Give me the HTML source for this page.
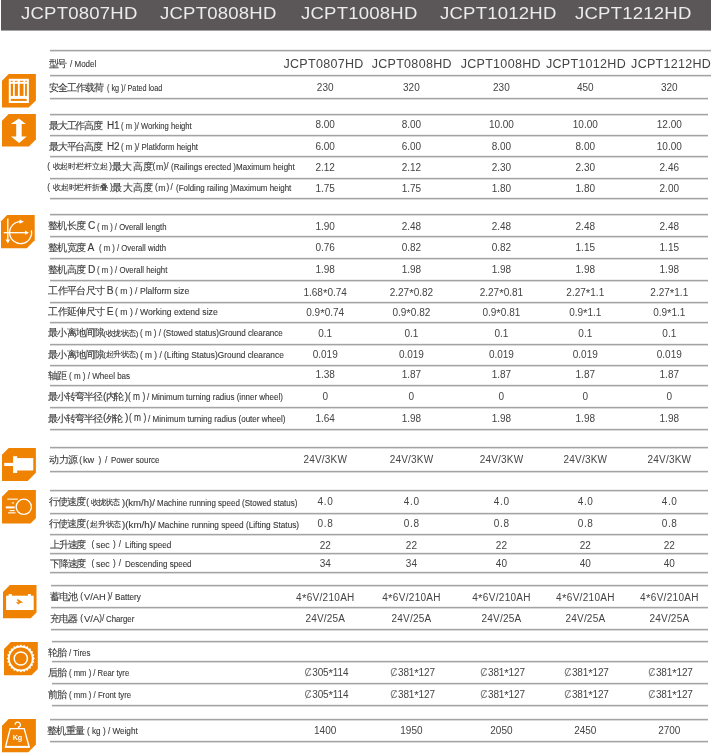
<!DOCTYPE html>
<html><head><meta charset="utf-8"><style>
html,body{margin:0;padding:0;background:#fff;width:711px;height:755px;overflow:hidden;position:relative}
body{font-family:"Liberation Sans",sans-serif;color:#383838}
.hdr{position:absolute;left:1px;top:0;width:710px;height:30px;background:#5b5657;box-shadow:0 1px 0 rgba(91,86,87,0.55)}
.ht{position:absolute;top:12.9px;line-height:0;font-size:17.5px;color:#ececec;letter-spacing:0.2px;white-space:nowrap;transform:scale(1.06,0.92);transform-origin:0 6px}
.ln{position:absolute;height:1px;background:#a3a3a3;box-shadow:0 1px 0 #dadada,0 -1px 0 #efefef}
.t{position:absolute;line-height:0;white-space:pre}
.c{font-size:9.5px;-webkit-text-stroke:0.25px #383838}
.s{font-size:8.0px;-webkit-text-stroke:0.2px #383838}
.n{font-size:10.2px}
.e{font-size:8.8px}
.e2{font-size:9.2px}
.p{font-size:8.2px}
.v{position:absolute;line-height:0;white-space:pre;text-align:center;width:120px;color:#444}
.ic{position:absolute;overflow:visible}
#wrap{position:absolute;left:0;top:0;width:711px;height:755px;will-change:transform}
.t{-webkit-text-stroke:0.12px #3a3a3a}
.t.c{-webkit-text-stroke:0.1px #383838}
.t.s{-webkit-text-stroke:0.1px #383838}
.v{-webkit-text-stroke:0}
.ast{font-size:11.5px;position:relative;top:1.2px}
.cs{color:#777;font-size:10px;margin-right:0.6px}
</style></head><body>
<div id="wrap">
<div class="hdr"></div>

<div class="ht" style="left:20.9px">JCPT0807HD</div>
<div class="ht" style="left:160.4px">JCPT0808HD</div>
<div class="ht" style="left:301.0px">JCPT1008HD</div>
<div class="ht" style="left:440.4px">JCPT1012HD</div>
<div class="ht" style="left:574.9px">JCPT1212HD</div>
<div class="ln" style="left:50px;top:50px;width:661px"></div>
<div class="ln" style="left:50px;top:75px;width:661px"></div>
<div class="ln" style="left:50px;top:98px;width:658px"></div>
<div class="ln" style="left:50px;top:114px;width:658px"></div>
<div class="ln" style="left:50px;top:135px;width:658px"></div>
<div class="ln" style="left:50px;top:156px;width:658px"></div>
<div class="ln" style="left:50px;top:178px;width:658px"></div>
<div class="ln" style="left:50px;top:198px;width:658px"></div>
<div class="ln" style="left:50px;top:214px;width:658px"></div>
<div class="ln" style="left:50px;top:236px;width:658px"></div>
<div class="ln" style="left:50px;top:258px;width:658px"></div>
<div class="ln" style="left:50px;top:280px;width:658px"></div>
<div class="ln" style="left:50px;top:302px;width:658px"></div>
<div class="ln" style="left:50px;top:322px;width:658px"></div>
<div class="ln" style="left:50px;top:344px;width:658px"></div>
<div class="ln" style="left:50px;top:365px;width:658px"></div>
<div class="ln" style="left:50px;top:385px;width:658px"></div>
<div class="ln" style="left:50px;top:407px;width:658px"></div>
<div class="ln" style="left:50px;top:429px;width:658px"></div>
<div class="ln" style="left:50px;top:447px;width:658px"></div>
<div class="ln" style="left:50px;top:471px;width:658px"></div>
<div class="ln" style="left:50px;top:490px;width:658px"></div>
<div class="ln" style="left:50px;top:513px;width:658px"></div>
<div class="ln" style="left:50px;top:534px;width:658px"></div>
<div class="ln" style="left:50px;top:553px;width:658px"></div>
<div class="ln" style="left:50px;top:572px;width:658px"></div>
<div class="ln" style="left:51px;top:585px;width:657px"></div>
<div class="ln" style="left:51px;top:607px;width:657px"></div>
<div class="ln" style="left:51px;top:629px;width:657px"></div>
<div class="ln" style="left:52px;top:641px;width:656px"></div>
<div class="ln" style="left:52px;top:661px;width:656px"></div>
<div class="ln" style="left:52px;top:683px;width:656px"></div>
<div class="ln" style="left:52px;top:705px;width:656px"></div>
<div class="ln" style="left:49.5px;top:719px;width:658.5px"></div>
<div class="ln" style="left:49.5px;top:741px;width:658.5px"></div>
<div class="t c" id="s0_0" style="left:48.60px;top:63.76px;letter-spacing:-1.306px">型号</div>
<div class="t e" id="s0_1" style="left:69.60px;top:64.00px;transform:scaleX(0.9113);transform-origin:0 0">/ Model</div>
<div class="t c" id="s1_0" style="left:48.60px;top:87.61px;letter-spacing:-0.823px">安全工作载荷</div>
<div class="t e" id="s1_1" style="left:107.00px;top:87.85px;transform:scaleX(0.8239);transform-origin:0 0">( kg )/ Pated load</div>
<div class="t c" id="s3_0" style="left:48.60px;top:125.86px;letter-spacing:-1.041px">最大工作高度</div>
<div class="t n" id="s3_1" style="left:106.90px;top:125.69px;font-size:10.0px">H1</div>
<div class="t e" id="s3_2" style="left:121.00px;top:126.10px;transform:scaleX(0.8676);transform-origin:0 0">( m )/ Working height</div>
<div class="t c" id="s4_0" style="left:48.60px;top:146.71px;letter-spacing:-1.041px">最大平台高度</div>
<div class="t n" id="s4_1" style="left:106.90px;top:146.53px;font-size:10.0px">H2</div>
<div class="t e" id="s4_2" style="left:121.00px;top:146.95px;transform:scaleX(0.8898);transform-origin:0 0">( m )/ Platkform height</div>
<div class="t p" id="s5_0" style="left:47.30px;top:167.31px">(</div>
<div class="t s" id="s5_1" style="left:52.60px;top:167.38px;letter-spacing:-0.169px">收起时栏杆立起</div>
<div class="t p" id="s5_2" style="left:109.20px;top:167.31px">)</div>
<div class="t c" id="s5_3" style="left:111.60px;top:166.69px;letter-spacing:0.562px;font-size:10.0px">最大高度</div>
<div class="t p" id="s5_4" style="left:152.60px;top:167.31px">(</div>
<div class="t e" id="s5_5" style="left:155.90px;top:167.10px">m</div>
<div class="t p" id="s5_6" style="left:163.60px;top:167.31px">)/</div>
<div class="t e" id="s5_7" style="left:170.70px;top:167.10px;transform:scaleX(0.9108);transform-origin:0 0">(Railings erected )Maximum height</div>
<div class="t p" id="s6_0" style="left:47.30px;top:188.31px">(</div>
<div class="t s" id="s6_1" style="left:52.60px;top:188.38px;letter-spacing:-0.035px">收起时栏杆折叠</div>
<div class="t p" id="s6_2" style="left:110.00px;top:188.31px">)</div>
<div class="t c" id="s6_3" style="left:112.20px;top:187.69px;letter-spacing:0.366px;font-size:10.0px">最大高度</div>
<div class="t p" id="s6_4" style="left:155.10px;top:188.31px">(</div>
<div class="t e" id="s6_5" style="left:158.20px;top:188.10px">m</div>
<div class="t p" id="s6_6" style="left:166.60px;top:188.31px">)</div>
<div class="t p" id="s6_7" style="left:170.60px;top:188.31px">/</div>
<div class="t e" id="s6_8" style="left:176.00px;top:188.10px;transform:scaleX(0.9036);transform-origin:0 0">(Folding railing )Maximum height</div>
<div class="t c" id="s8_0" style="left:48.40px;top:226.36px;letter-spacing:-0.938px">整机长度</div>
<div class="t n" id="s8_1" style="left:88.10px;top:226.12px">C</div>
<div class="t e" id="s8_2" style="left:96.70px;top:226.60px;transform:scaleX(0.8709);transform-origin:0 0">( m ) / Overall length</div>
<div class="t c" id="s9_0" style="left:48.40px;top:248.21px;letter-spacing:-0.938px">整机宽度</div>
<div class="t n" id="s9_1" style="left:87.60px;top:247.97px">A</div>
<div class="t e" id="s9_2" style="left:99.40px;top:248.45px;transform:scaleX(0.8785);transform-origin:0 0">( m ) / Overall width</div>
<div class="t c" id="s10_0" style="left:48.40px;top:270.16px;letter-spacing:-0.938px">整机高度</div>
<div class="t n" id="s10_1" style="left:88.10px;top:269.92px">D</div>
<div class="t e" id="s10_2" style="left:96.70px;top:270.40px;transform:scaleX(0.8822);transform-origin:0 0">( m ) / Overall height</div>
<div class="t c" id="s11_0" style="left:48.40px;top:291.31px;letter-spacing:-0.721px">工作平台尺寸</div>
<div class="t n" id="s11_1" style="left:106.80px;top:291.07px">B</div>
<div class="t e2" id="s11_2" style="left:115.00px;top:291.41px;transform:scaleX(0.9377);transform-origin:0 0">( m ) / Plalform size</div>
<div class="t c" id="s12_0" style="left:48.40px;top:312.26px;letter-spacing:-0.721px">工作延伸尺寸</div>
<div class="t n" id="s12_1" style="left:106.80px;top:312.02px">E</div>
<div class="t e2" id="s12_2" style="left:115.00px;top:312.36px;transform:scaleX(0.9414);transform-origin:0 0">( m ) / Working extend size</div>
<div class="t c" id="s13_0" style="left:48.40px;top:333.06px;letter-spacing:-0.902px">最小离地间隙</div>
<div class="t s" id="s13_1" style="left:103.30px;top:333.58px;letter-spacing:-0.446px">(收拢状态)</div>
<div class="t e" id="s13_2" style="left:140.10px;top:333.30px;transform:scaleX(0.9128);transform-origin:0 0">( m ) / (Stowed status)Ground clearance</div>
<div class="t c" id="s14_0" style="left:48.40px;top:354.61px;letter-spacing:-0.902px">最小离地间隙</div>
<div class="t s" id="s14_1" style="left:103.30px;top:355.13px;letter-spacing:-0.446px">(起升状态)</div>
<div class="t e" id="s14_2" style="left:140.10px;top:354.85px;transform:scaleX(0.9456);transform-origin:0 0">( m ) / (Lifting Status)Ground clearance</div>
<div class="t c" id="s15_0" style="left:48.40px;top:376.06px;letter-spacing:-1.000px">轴距</div>
<div class="t e2" id="s15_1" style="left:69.30px;top:376.16px;transform:scaleX(0.8735);transform-origin:0 0">( m ) / Wheel bas</div>
<div class="t c" id="s16_0" style="left:48.40px;top:396.81px;letter-spacing:-0.981px">最小转弯半径</div>
<div class="t n" id="s16_1" style="left:102.90px;top:396.57px">(</div>
<div class="t c" id="s16_2" style="left:105.60px;top:396.81px;letter-spacing:-1.613px">内轮</div>
<div class="t n" id="s16_3" style="left:124.80px;top:396.57px">)</div>
<div class="t n" id="s16_4" style="left:127.80px;top:396.57px;transform:scaleX(0.8215);transform-origin:0 0">( m )</div>
<div class="t e" id="s16_5" style="left:147.00px;top:397.05px;transform:scaleX(0.9083);transform-origin:0 0">/ Minimum turning radius (inner wheel)</div>
<div class="t c" id="s17_0" style="left:48.40px;top:418.66px;letter-spacing:-0.981px">最小转弯半径</div>
<div class="t n" id="s17_1" style="left:102.90px;top:418.42px">(</div>
<div class="t c" id="s17_2" style="left:105.60px;top:418.66px;letter-spacing:-2.500px">外轮</div>
<div class="t n" id="s17_3" style="left:125.00px;top:418.42px">)</div>
<div class="t n" id="s17_4" style="left:128.70px;top:418.42px;transform:scaleX(0.8215);transform-origin:0 0">( m )</div>
<div class="t e" id="s17_5" style="left:147.90px;top:418.90px;transform:scaleX(0.9161);transform-origin:0 0">/ Minimum turning radius (outer wheel)</div>
<div class="t c" id="s19_0" style="left:49.00px;top:460.06px;letter-spacing:-0.352px">动力源</div>
<div class="t p" id="s19_1" style="left:79.30px;top:460.51px">(</div>
<div class="t e" id="s19_2" style="left:83.00px;top:460.16px;font-size:9.2px">kw</div>
<div class="t p" id="s19_3" style="left:98.40px;top:460.51px">)</div>
<div class="t p" id="s19_4" style="left:104.90px;top:460.51px">/</div>
<div class="t e" id="s19_5" style="left:111.30px;top:460.30px;transform:scaleX(0.8997);transform-origin:0 0">Power source</div>
<div class="t c" id="s21_0" style="left:49.00px;top:502.36px;letter-spacing:-1.000px">行使速度</div>
<div class="t p" id="s21_1" style="left:86.30px;top:502.81px">(</div>
<div class="t s" id="s21_2" style="left:91.00px;top:502.88px;letter-spacing:-0.872px">收拢状态</div>
<div class="t e" id="s21_3" style="left:122.30px;top:502.60px;transform:scaleX(1.0826);transform-origin:0 0">)(km/h)/</div>
<div class="t e" id="s21_4" style="left:157.00px;top:502.60px;transform:scaleX(0.9057);transform-origin:0 0">Machine running speed (Stowed status)</div>
<div class="t c" id="s22_0" style="left:49.00px;top:524.36px;letter-spacing:-1.000px">行使速度</div>
<div class="t p" id="s22_1" style="left:86.30px;top:524.81px">(</div>
<div class="t s" id="s22_2" style="left:90.10px;top:524.88px;letter-spacing:-0.268px">起升状态</div>
<div class="t e" id="s22_3" style="left:122.30px;top:524.60px;transform:scaleX(1.1124);transform-origin:0 0">)(km/h)/</div>
<div class="t e" id="s22_4" style="left:158.00px;top:524.60px;transform:scaleX(0.9367);transform-origin:0 0">Machine running speed (Lifting Status)</div>
<div class="t c" id="s23_0" style="left:49.90px;top:544.51px;letter-spacing:-1.134px">上升速度</div>
<div class="t p" id="s23_1" style="left:91.60px;top:544.96px">(</div>
<div class="t e" id="s23_2" style="left:96.00px;top:544.75px">sec</div>
<div class="t p" id="s23_3" style="left:112.90px;top:544.96px">)</div>
<div class="t p" id="s23_4" style="left:118.80px;top:544.96px">/</div>
<div class="t e2" id="s23_5" style="left:125.10px;top:544.61px;transform:scaleX(0.8885);transform-origin:0 0">Lifting speed</div>
<div class="t c" id="s24_0" style="left:49.90px;top:563.71px;letter-spacing:-1.134px">下降速度</div>
<div class="t p" id="s24_1" style="left:91.60px;top:564.16px">(</div>
<div class="t e" id="s24_2" style="left:96.00px;top:563.95px">sec</div>
<div class="t p" id="s24_3" style="left:112.90px;top:564.16px">)</div>
<div class="t p" id="s24_4" style="left:118.80px;top:564.16px">/</div>
<div class="t e2" id="s24_5" style="left:125.10px;top:563.81px;transform:scaleX(0.8750);transform-origin:0 0">Descending speed</div>
<div class="t c" id="s26_0" style="left:49.50px;top:596.96px;letter-spacing:-0.602px">蓄电池</div>
<div class="t p" id="s26_1" style="left:80.20px;top:597.41px">(</div>
<div class="t n" id="s26_2" style="left:83.90px;top:596.92px;transform:scaleX(0.9730);transform-origin:0 0;font-size:9.6px">V/AH</div>
<div class="t p" id="s26_3" style="left:107.40px;top:597.41px">)/</div>
<div class="t e" id="s26_4" style="left:115.00px;top:597.20px;transform:scaleX(0.9255);transform-origin:0 0">Battery</div>
<div class="t c" id="s27_0" style="left:49.50px;top:619.01px;letter-spacing:-0.602px">充电器</div>
<div class="t p" id="s27_1" style="left:80.20px;top:619.46px">(</div>
<div class="t n" id="s27_2" style="left:83.90px;top:618.97px;font-size:9.6px">V/A</div>
<div class="t p" id="s27_3" style="left:99.20px;top:619.46px">)/</div>
<div class="t e" id="s27_4" style="left:105.80px;top:619.25px;transform:scaleX(0.8900);transform-origin:0 0">Charger</div>
<div class="t c" id="s29_0" style="left:48.40px;top:653.11px;letter-spacing:-1.000px">轮胎</div>
<div class="t e" id="s29_1" style="left:69.30px;top:653.35px;transform:scaleX(0.8934);transform-origin:0 0">/ Tires</div>
<div class="t c" id="s30_0" style="left:48.40px;top:672.86px;letter-spacing:-1.000px">后胎</div>
<div class="t e" id="s30_1" style="left:69.30px;top:673.10px;transform:scaleX(0.8734);transform-origin:0 0">( mm ) / Rear tyre</div>
<div class="t c" id="s31_0" style="left:48.40px;top:694.76px;letter-spacing:-1.000px">前胎</div>
<div class="t e" id="s31_1" style="left:69.30px;top:695.00px;transform:scaleX(0.8822);transform-origin:0 0">( mm ) / Front tyre</div>
<div class="t c" id="s33_0" style="left:47.10px;top:731.06px;letter-spacing:-0.603px">整机重量</div>
<div class="t e" id="s33_1" style="left:87.00px;top:731.30px;transform:scaleX(0.9287);transform-origin:0 0">( kg ) / Weight</div>
<div class="v" style="left:263.4px;top:63.62px;font-size:12.5px;letter-spacing:0.3px;text-indent:0.3px">JCPT0807HD</div>
<div class="v" style="left:351.6px;top:63.62px;font-size:12.5px;letter-spacing:0.3px;text-indent:0.3px">JCPT0808HD</div>
<div class="v" style="left:440.6px;top:63.62px;font-size:12.5px;letter-spacing:0.3px;text-indent:0.3px">JCPT1008HD</div>
<div class="v" style="left:525.8px;top:63.62px;font-size:12.5px;letter-spacing:0.3px;text-indent:0.3px">JCPT1012HD</div>
<div class="v" style="left:611.0px;top:63.62px;font-size:12.5px;letter-spacing:0.3px;text-indent:0.3px">JCPT1212HD</div>
<div class="v" style="left:265.2px;top:87.53px;font-size:10.0px;letter-spacing:0.0px;text-indent:0.0px">230</div>
<div class="v" style="left:351.4px;top:87.53px;font-size:10.0px;letter-spacing:0.0px;text-indent:0.0px">320</div>
<div class="v" style="left:441.4px;top:87.53px;font-size:10.0px;letter-spacing:0.0px;text-indent:0.0px">230</div>
<div class="v" style="left:525.3px;top:87.53px;font-size:10.0px;letter-spacing:0.0px;text-indent:0.0px">450</div>
<div class="v" style="left:609.3px;top:87.53px;font-size:10.0px;letter-spacing:0.0px;text-indent:0.0px">320</div>
<div class="v" style="left:265.2px;top:125.28px;font-size:10.0px;letter-spacing:0.0px;text-indent:0.0px">8.00</div>
<div class="v" style="left:351.4px;top:125.28px;font-size:10.0px;letter-spacing:0.0px;text-indent:0.0px">8.00</div>
<div class="v" style="left:441.4px;top:125.28px;font-size:10.0px;letter-spacing:0.0px;text-indent:0.0px">10.00</div>
<div class="v" style="left:525.3px;top:125.28px;font-size:10.0px;letter-spacing:0.0px;text-indent:0.0px">10.00</div>
<div class="v" style="left:609.3px;top:125.28px;font-size:10.0px;letter-spacing:0.0px;text-indent:0.0px">12.00</div>
<div class="v" style="left:265.2px;top:146.63px;font-size:10.0px;letter-spacing:0.0px;text-indent:0.0px">6.00</div>
<div class="v" style="left:351.4px;top:146.63px;font-size:10.0px;letter-spacing:0.0px;text-indent:0.0px">6.00</div>
<div class="v" style="left:441.4px;top:146.63px;font-size:10.0px;letter-spacing:0.0px;text-indent:0.0px">8.00</div>
<div class="v" style="left:525.3px;top:146.63px;font-size:10.0px;letter-spacing:0.0px;text-indent:0.0px">8.00</div>
<div class="v" style="left:609.3px;top:146.63px;font-size:10.0px;letter-spacing:0.0px;text-indent:0.0px">10.00</div>
<div class="v" style="left:265.2px;top:168.09px;font-size:10.0px;letter-spacing:0.0px;text-indent:0.0px">2.12</div>
<div class="v" style="left:351.4px;top:168.09px;font-size:10.0px;letter-spacing:0.0px;text-indent:0.0px">2.12</div>
<div class="v" style="left:441.4px;top:168.09px;font-size:10.0px;letter-spacing:0.0px;text-indent:0.0px">2.30</div>
<div class="v" style="left:525.3px;top:168.09px;font-size:10.0px;letter-spacing:0.0px;text-indent:0.0px">2.30</div>
<div class="v" style="left:609.3px;top:168.09px;font-size:10.0px;letter-spacing:0.0px;text-indent:0.0px">2.46</div>
<div class="v" style="left:265.2px;top:189.09px;font-size:10.0px;letter-spacing:0.0px;text-indent:0.0px">1.75</div>
<div class="v" style="left:351.4px;top:189.09px;font-size:10.0px;letter-spacing:0.0px;text-indent:0.0px">1.75</div>
<div class="v" style="left:441.4px;top:189.09px;font-size:10.0px;letter-spacing:0.0px;text-indent:0.0px">1.80</div>
<div class="v" style="left:525.3px;top:189.09px;font-size:10.0px;letter-spacing:0.0px;text-indent:0.0px">1.80</div>
<div class="v" style="left:609.3px;top:189.09px;font-size:10.0px;letter-spacing:0.0px;text-indent:0.0px">2.00</div>
<div class="v" style="left:265.2px;top:227.28px;font-size:10.0px;letter-spacing:0.0px;text-indent:0.0px">1.90</div>
<div class="v" style="left:351.4px;top:227.28px;font-size:10.0px;letter-spacing:0.0px;text-indent:0.0px">2.48</div>
<div class="v" style="left:441.4px;top:227.28px;font-size:10.0px;letter-spacing:0.0px;text-indent:0.0px">2.48</div>
<div class="v" style="left:525.3px;top:227.28px;font-size:10.0px;letter-spacing:0.0px;text-indent:0.0px">2.48</div>
<div class="v" style="left:609.3px;top:227.28px;font-size:10.0px;letter-spacing:0.0px;text-indent:0.0px">2.48</div>
<div class="v" style="left:265.2px;top:248.14px;font-size:10.0px;letter-spacing:0.0px;text-indent:0.0px">0.76</div>
<div class="v" style="left:351.4px;top:248.14px;font-size:10.0px;letter-spacing:0.0px;text-indent:0.0px">0.82</div>
<div class="v" style="left:441.4px;top:248.14px;font-size:10.0px;letter-spacing:0.0px;text-indent:0.0px">0.82</div>
<div class="v" style="left:525.3px;top:248.14px;font-size:10.0px;letter-spacing:0.0px;text-indent:0.0px">1.15</div>
<div class="v" style="left:609.3px;top:248.14px;font-size:10.0px;letter-spacing:0.0px;text-indent:0.0px">1.15</div>
<div class="v" style="left:265.2px;top:270.09px;font-size:10.0px;letter-spacing:0.0px;text-indent:0.0px">1.98</div>
<div class="v" style="left:351.4px;top:270.09px;font-size:10.0px;letter-spacing:0.0px;text-indent:0.0px">1.98</div>
<div class="v" style="left:441.4px;top:270.09px;font-size:10.0px;letter-spacing:0.0px;text-indent:0.0px">1.98</div>
<div class="v" style="left:525.3px;top:270.09px;font-size:10.0px;letter-spacing:0.0px;text-indent:0.0px">1.98</div>
<div class="v" style="left:609.3px;top:270.09px;font-size:10.0px;letter-spacing:0.0px;text-indent:0.0px">1.98</div>
<div class="v" style="left:265.2px;top:292.04px;font-size:10.0px;letter-spacing:0.0px;text-indent:0.0px">1.68<span class="ast">*</span>0.74</div>
<div class="v" style="left:351.4px;top:292.04px;font-size:10.0px;letter-spacing:0.0px;text-indent:0.0px">2.27<span class="ast">*</span>0.82</div>
<div class="v" style="left:441.4px;top:292.04px;font-size:10.0px;letter-spacing:0.0px;text-indent:0.0px">2.27<span class="ast">*</span>0.81</div>
<div class="v" style="left:525.3px;top:292.04px;font-size:10.0px;letter-spacing:0.0px;text-indent:0.0px">2.27<span class="ast">*</span>1.1</div>
<div class="v" style="left:609.3px;top:292.04px;font-size:10.0px;letter-spacing:0.0px;text-indent:0.0px">2.27<span class="ast">*</span>1.1</div>
<div class="v" style="left:265.2px;top:312.19px;font-size:10.0px;letter-spacing:0.0px;text-indent:0.0px">0.9<span class="ast">*</span>0.74</div>
<div class="v" style="left:351.4px;top:312.19px;font-size:10.0px;letter-spacing:0.0px;text-indent:0.0px">0.9<span class="ast">*</span>0.82</div>
<div class="v" style="left:441.4px;top:312.19px;font-size:10.0px;letter-spacing:0.0px;text-indent:0.0px">0.9<span class="ast">*</span>0.81</div>
<div class="v" style="left:525.3px;top:312.19px;font-size:10.0px;letter-spacing:0.0px;text-indent:0.0px">0.9<span class="ast">*</span>1.1</div>
<div class="v" style="left:609.3px;top:312.19px;font-size:10.0px;letter-spacing:0.0px;text-indent:0.0px">0.9<span class="ast">*</span>1.1</div>
<div class="v" style="left:265.2px;top:333.79px;font-size:10.0px;letter-spacing:0.0px;text-indent:0.0px">0.1</div>
<div class="v" style="left:351.4px;top:333.79px;font-size:10.0px;letter-spacing:0.0px;text-indent:0.0px">0.1</div>
<div class="v" style="left:441.4px;top:333.79px;font-size:10.0px;letter-spacing:0.0px;text-indent:0.0px">0.1</div>
<div class="v" style="left:525.3px;top:333.79px;font-size:10.0px;letter-spacing:0.0px;text-indent:0.0px">0.1</div>
<div class="v" style="left:609.3px;top:333.79px;font-size:10.0px;letter-spacing:0.0px;text-indent:0.0px">0.1</div>
<div class="v" style="left:265.2px;top:354.54px;font-size:10.0px;letter-spacing:0.0px;text-indent:0.0px">0.019</div>
<div class="v" style="left:351.4px;top:354.54px;font-size:10.0px;letter-spacing:0.0px;text-indent:0.0px">0.019</div>
<div class="v" style="left:441.4px;top:354.54px;font-size:10.0px;letter-spacing:0.0px;text-indent:0.0px">0.019</div>
<div class="v" style="left:525.3px;top:354.54px;font-size:10.0px;letter-spacing:0.0px;text-indent:0.0px">0.019</div>
<div class="v" style="left:609.3px;top:354.54px;font-size:10.0px;letter-spacing:0.0px;text-indent:0.0px">0.019</div>
<div class="v" style="left:265.2px;top:375.19px;font-size:10.0px;letter-spacing:0.0px;text-indent:0.0px">1.38</div>
<div class="v" style="left:351.4px;top:375.19px;font-size:10.0px;letter-spacing:0.0px;text-indent:0.0px">1.87</div>
<div class="v" style="left:441.4px;top:375.19px;font-size:10.0px;letter-spacing:0.0px;text-indent:0.0px">1.87</div>
<div class="v" style="left:525.3px;top:375.19px;font-size:10.0px;letter-spacing:0.0px;text-indent:0.0px">1.87</div>
<div class="v" style="left:609.3px;top:375.19px;font-size:10.0px;letter-spacing:0.0px;text-indent:0.0px">1.87</div>
<div class="v" style="left:265.2px;top:396.74px;font-size:10.0px;letter-spacing:0.0px;text-indent:0.0px">0</div>
<div class="v" style="left:351.4px;top:396.74px;font-size:10.0px;letter-spacing:0.0px;text-indent:0.0px">0</div>
<div class="v" style="left:441.4px;top:396.74px;font-size:10.0px;letter-spacing:0.0px;text-indent:0.0px">0</div>
<div class="v" style="left:525.3px;top:396.74px;font-size:10.0px;letter-spacing:0.0px;text-indent:0.0px">0</div>
<div class="v" style="left:609.3px;top:396.74px;font-size:10.0px;letter-spacing:0.0px;text-indent:0.0px">0</div>
<div class="v" style="left:265.2px;top:418.59px;font-size:10.0px;letter-spacing:0.0px;text-indent:0.0px">1.64</div>
<div class="v" style="left:351.4px;top:418.59px;font-size:10.0px;letter-spacing:0.0px;text-indent:0.0px">1.98</div>
<div class="v" style="left:441.4px;top:418.59px;font-size:10.0px;letter-spacing:0.0px;text-indent:0.0px">1.98</div>
<div class="v" style="left:525.3px;top:418.59px;font-size:10.0px;letter-spacing:0.0px;text-indent:0.0px">1.98</div>
<div class="v" style="left:609.3px;top:418.59px;font-size:10.0px;letter-spacing:0.0px;text-indent:0.0px">1.98</div>
<div class="v" style="left:265.2px;top:459.99px;font-size:10.0px;letter-spacing:0.2px;text-indent:0.2px">24V/3KW</div>
<div class="v" style="left:351.4px;top:459.99px;font-size:10.0px;letter-spacing:0.2px;text-indent:0.2px">24V/3KW</div>
<div class="v" style="left:441.4px;top:459.99px;font-size:10.0px;letter-spacing:0.2px;text-indent:0.2px">24V/3KW</div>
<div class="v" style="left:525.3px;top:459.99px;font-size:10.0px;letter-spacing:0.2px;text-indent:0.2px">24V/3KW</div>
<div class="v" style="left:609.3px;top:459.99px;font-size:10.0px;letter-spacing:0.2px;text-indent:0.2px">24V/3KW</div>
<div class="v" style="left:265.2px;top:502.29px;font-size:10.0px;letter-spacing:0.7px;text-indent:0.7px">4.0</div>
<div class="v" style="left:351.4px;top:502.29px;font-size:10.0px;letter-spacing:0.7px;text-indent:0.7px">4.0</div>
<div class="v" style="left:441.4px;top:502.29px;font-size:10.0px;letter-spacing:0.7px;text-indent:0.7px">4.0</div>
<div class="v" style="left:525.3px;top:502.29px;font-size:10.0px;letter-spacing:0.7px;text-indent:0.7px">4.0</div>
<div class="v" style="left:609.3px;top:502.29px;font-size:10.0px;letter-spacing:0.7px;text-indent:0.7px">4.0</div>
<div class="v" style="left:265.2px;top:524.28px;font-size:10.0px;letter-spacing:0.7px;text-indent:0.7px">0.8</div>
<div class="v" style="left:351.4px;top:524.28px;font-size:10.0px;letter-spacing:0.7px;text-indent:0.7px">0.8</div>
<div class="v" style="left:441.4px;top:524.28px;font-size:10.0px;letter-spacing:0.7px;text-indent:0.7px">0.8</div>
<div class="v" style="left:525.3px;top:524.28px;font-size:10.0px;letter-spacing:0.7px;text-indent:0.7px">0.8</div>
<div class="v" style="left:609.3px;top:524.28px;font-size:10.0px;letter-spacing:0.7px;text-indent:0.7px">0.8</div>
<div class="v" style="left:265.2px;top:545.63px;font-size:10.0px;letter-spacing:0.0px;text-indent:0.0px">22</div>
<div class="v" style="left:351.4px;top:545.63px;font-size:10.0px;letter-spacing:0.0px;text-indent:0.0px">22</div>
<div class="v" style="left:441.4px;top:545.63px;font-size:10.0px;letter-spacing:0.0px;text-indent:0.0px">22</div>
<div class="v" style="left:525.3px;top:545.63px;font-size:10.0px;letter-spacing:0.0px;text-indent:0.0px">22</div>
<div class="v" style="left:609.3px;top:545.63px;font-size:10.0px;letter-spacing:0.0px;text-indent:0.0px">22</div>
<div class="v" style="left:265.2px;top:563.63px;font-size:10.0px;letter-spacing:0.0px;text-indent:0.0px">34</div>
<div class="v" style="left:351.4px;top:563.63px;font-size:10.0px;letter-spacing:0.0px;text-indent:0.0px">34</div>
<div class="v" style="left:441.4px;top:563.63px;font-size:10.0px;letter-spacing:0.0px;text-indent:0.0px">40</div>
<div class="v" style="left:525.3px;top:563.63px;font-size:10.0px;letter-spacing:0.0px;text-indent:0.0px">40</div>
<div class="v" style="left:609.3px;top:563.63px;font-size:10.0px;letter-spacing:0.0px;text-indent:0.0px">40</div>
<div class="v" style="left:265.2px;top:596.88px;font-size:10.0px;letter-spacing:0.3px;text-indent:0.3px">4<span class="ast">*</span>6V/210AH</div>
<div class="v" style="left:351.4px;top:596.88px;font-size:10.0px;letter-spacing:0.3px;text-indent:0.3px">4<span class="ast">*</span>6V/210AH</div>
<div class="v" style="left:441.4px;top:596.88px;font-size:10.0px;letter-spacing:0.3px;text-indent:0.3px">4<span class="ast">*</span>6V/210AH</div>
<div class="v" style="left:525.3px;top:596.88px;font-size:10.0px;letter-spacing:0.3px;text-indent:0.3px">4<span class="ast">*</span>6V/210AH</div>
<div class="v" style="left:609.3px;top:596.88px;font-size:10.0px;letter-spacing:0.3px;text-indent:0.3px">4<span class="ast">*</span>6V/210AH</div>
<div class="v" style="left:265.2px;top:618.93px;font-size:10.0px;letter-spacing:0.2px;text-indent:0.2px">24V/25A</div>
<div class="v" style="left:351.4px;top:618.93px;font-size:10.0px;letter-spacing:0.2px;text-indent:0.2px">24V/25A</div>
<div class="v" style="left:441.4px;top:618.93px;font-size:10.0px;letter-spacing:0.2px;text-indent:0.2px">24V/25A</div>
<div class="v" style="left:525.3px;top:618.93px;font-size:10.0px;letter-spacing:0.2px;text-indent:0.2px">24V/25A</div>
<div class="v" style="left:609.3px;top:618.93px;font-size:10.0px;letter-spacing:0.2px;text-indent:0.2px">24V/25A</div>
<div class="v" style="left:266.5px;top:671.78px;font-size:10.0px;letter-spacing:-0.15px;text-indent:-0.15px"><span class="cs">Ȼ</span>305<span class="ast">*</span>114</div>
<div class="v" style="left:352.7px;top:671.78px;font-size:10.0px;letter-spacing:-0.15px;text-indent:-0.15px"><span class="cs">Ȼ</span>381<span class="ast">*</span>127</div>
<div class="v" style="left:442.7px;top:671.78px;font-size:10.0px;letter-spacing:-0.15px;text-indent:-0.15px"><span class="cs">Ȼ</span>381<span class="ast">*</span>127</div>
<div class="v" style="left:526.6px;top:671.78px;font-size:10.0px;letter-spacing:-0.15px;text-indent:-0.15px"><span class="cs">Ȼ</span>381<span class="ast">*</span>127</div>
<div class="v" style="left:610.6px;top:671.78px;font-size:10.0px;letter-spacing:-0.15px;text-indent:-0.15px"><span class="cs">Ȼ</span>381<span class="ast">*</span>127</div>
<div class="v" style="left:266.5px;top:693.69px;font-size:10.0px;letter-spacing:-0.15px;text-indent:-0.15px"><span class="cs">Ȼ</span>305<span class="ast">*</span>114</div>
<div class="v" style="left:352.7px;top:693.69px;font-size:10.0px;letter-spacing:-0.15px;text-indent:-0.15px"><span class="cs">Ȼ</span>381<span class="ast">*</span>127</div>
<div class="v" style="left:442.7px;top:693.69px;font-size:10.0px;letter-spacing:-0.15px;text-indent:-0.15px"><span class="cs">Ȼ</span>381<span class="ast">*</span>127</div>
<div class="v" style="left:526.6px;top:693.69px;font-size:10.0px;letter-spacing:-0.15px;text-indent:-0.15px"><span class="cs">Ȼ</span>381<span class="ast">*</span>127</div>
<div class="v" style="left:610.6px;top:693.69px;font-size:10.0px;letter-spacing:-0.15px;text-indent:-0.15px"><span class="cs">Ȼ</span>381<span class="ast">*</span>127</div>
<div class="v" style="left:265.2px;top:730.99px;font-size:10.0px;letter-spacing:0.0px;text-indent:0.0px">1400</div>
<div class="v" style="left:351.4px;top:730.99px;font-size:10.0px;letter-spacing:0.0px;text-indent:0.0px">1950</div>
<div class="v" style="left:441.4px;top:730.99px;font-size:10.0px;letter-spacing:0.0px;text-indent:0.0px">2050</div>
<div class="v" style="left:525.3px;top:730.99px;font-size:10.0px;letter-spacing:0.0px;text-indent:0.0px">2450</div>
<div class="v" style="left:609.3px;top:730.99px;font-size:10.0px;letter-spacing:0.0px;text-indent:0.0px">2700</div>
<svg class="ic" style="left:2.2px;top:74px" width="33.90" height="33.60" viewBox="0 0 33.90 33.60"><polygon points="0,6.7 6.7,0 33.90,0 33.90,26.40 26.70,33.60 0,33.60" fill="#ef8200"/><rect x="6.8" y="4.8" width="20.1" height="24.2" fill="#fff"/><rect x="8.8" y="6.8" width="2.0" height="1.0" fill="#ef8200"/><rect x="12.8" y="6.8" width="2.7" height="1.0" fill="#ef8200"/><rect x="17.9" y="6.8" width="3.6" height="1.0" fill="#ef8200"/><rect x="23.3" y="6.8" width="1.6" height="1.0" fill="#ef8200"/><rect x="8.8" y="9.8" width="2.2" height="12.1" fill="#ef8200"/><rect x="12.8" y="9.8" width="3.1" height="12.1" fill="#ef8200"/><rect x="17.7" y="9.8" width="3.8" height="12.1" fill="#ef8200"/><rect x="23.1" y="9.8" width="1.8" height="12.1" fill="#ef8200"/><rect x="8.8" y="24.9" width="15.9" height="2.0" fill="#ef8200"/></svg>
<svg class="ic" style="left:2.2px;top:114px" width="33.90" height="32.60" viewBox="0 0 33.90 32.60"><polygon points="0,6.7 6.7,0 33.90,0 33.90,25.60 26.90,32.60 0,32.60" fill="#ef8200"/><polygon points="16.9,4.6 23.8,10.1 19.7,10.1 19.7,22.6 24.7,22.6 17.1,29.0 9.0,22.6 14.2,22.6 14.2,10.1 8.8,10.1" fill="#fff"/></svg>
<svg class="ic" style="left:1.1px;top:214.8px" width="33.70" height="33.20" viewBox="0 0 33.70 33.20"><polygon points="0,6.2 6.2,0 33.70,0 33.70,25.30 25.80,33.20 0,33.20" fill="#ef8200"/><g stroke="#fff" fill="none" stroke-width="1.3"><line x1="6.8" y1="3.5" x2="6.8" y2="26"/><line x1="2.7" y1="17.7" x2="25" y2="17.7"/><path d="M19.6,6.6 A11,11 0 1 0 30.4,15.5"/></g><polygon points="4.5,24.5 9.1,24.5 6.8,28.4" fill="#fff"/><polygon points="24,15.6 24,19.8 28,17.7" fill="#fff"/><polygon points="18.6,4.6 18.6,8.8 23,6.7" fill="#fff"/></svg>
<svg class="ic" style="left:2.2px;top:447.8px" width="33.90" height="32.90" viewBox="0 0 33.90 32.90"><polygon points="0,6.7 6.7,0 33.90,0 33.90,24.70 25.70,32.90 0,32.90" fill="#ef8200"/><rect x="14.9" y="10.1" width="16.4" height="12.4" fill="#fff"/><rect x="11.1" y="8.2" width="4.1" height="16.8" fill="#fff"/><rect x="2.2" y="14.9" width="9" height="3.1" fill="#fff"/></svg>
<svg class="ic" style="left:2.2px;top:489.9px" width="33.90" height="33.60" viewBox="0 0 33.90 33.60"><polygon points="0,6.7 6.7,0 33.90,0 33.90,28.20 28.50,33.60 0,33.60" fill="#ef8200"/><circle cx="21.8" cy="16.8" r="7.6" stroke="#fff" stroke-width="1.3" fill="none"/><rect x="5.4" y="8.6" width="10.4" height="1.1" fill="#fff"/><rect x="9.8" y="12.4" width="2.2" height="1.1" fill="#fff"/><rect x="3.8" y="16.4" width="8.9" height="2" fill="#fff"/><rect x="7.6" y="20.1" width="5.1" height="1.1" fill="#fff"/><rect x="6" y="22.3" width="7.6" height="1.1" fill="#fff"/></svg>
<svg class="ic" style="left:3.2px;top:584.9px" width="33.50" height="33.20" viewBox="0 0 33.50 33.20"><polygon points="0,6.9 6.9,0 33.50,0 33.50,27.50 27.80,33.20 0,33.20" fill="#ef8200"/><rect x="3.1" y="10.7" width="27.6" height="14.3" fill="#fff"/><rect x="5.7" y="9.1" width="3.1" height="2" fill="#fff"/><rect x="25" y="9.1" width="2.9" height="2" fill="#fff"/><polygon points="14.6,13.9 20.2,17.4 16.6,17.9 14.0,15.3" fill="#ef8200"/><polygon points="12.9,17.3 18.2,17.2 15.2,19.6" fill="#ef8200"/></svg>
<svg class="ic" style="left:3.5px;top:641.7px" width="33.80" height="33.20" viewBox="0 0 33.80 33.20"><polygon points="0,6.9 6.9,0 33.80,0 33.80,26.90 27.50,33.20 0,33.20" fill="#ef8200"/><polygon points="30.90,16.50 29.29,18.14 30.42,20.15 28.44,21.32 29.01,23.55 26.80,24.17 26.77,26.47 24.47,26.50 23.85,28.71 21.62,28.14 20.45,30.12 18.44,28.99 16.80,30.60 15.16,28.99 13.15,30.12 11.98,28.14 9.75,28.71 9.13,26.50 6.83,26.47 6.80,24.17 4.59,23.55 5.16,21.32 3.18,20.15 4.31,18.14 2.70,16.50 4.31,14.86 3.18,12.85 5.16,11.68 4.59,9.45 6.80,8.83 6.83,6.53 9.13,6.50 9.75,4.29 11.98,4.86 13.15,2.88 15.16,4.01 16.80,2.40 18.44,4.01 20.45,2.88 21.62,4.86 23.85,4.29 24.47,6.50 26.77,6.53 26.80,8.83 29.01,9.45 28.44,11.68 30.42,12.85 29.29,14.86" fill="#fff"/><circle cx="16.8" cy="16.5" r="11.0" fill="#ef8200"/><circle cx="16.8" cy="16.5" r="6.6" stroke="#fff" stroke-width="1.5" fill="none"/></svg>
<svg class="ic" style="left:2.2px;top:718.9px" width="33.90" height="33.20" viewBox="0 0 33.90 33.20"><polygon points="0,6.7 6.7,0 33.90,0 33.90,25.60 26.30,33.20 0,33.20" fill="#ef8200"/><polygon points="8.2,9.6 22.2,9.6 27.2,28.0 3.5,28.0" stroke="#fff" stroke-width="1.4" fill="none"/><rect x="3.3" y="26.9" width="24.1" height="1.8" fill="#fff"/><path d="M13.2,5.8 A2.6,2.6 0 1 1 16.5,8.2 L16.5,9.5" stroke="#fff" stroke-width="1.3" fill="none"/><text x="15.3" y="20.6" font-family="Liberation Sans" font-weight="bold" font-size="7.2" letter-spacing="-0.3" fill="#fff" text-anchor="middle">Kg</text></svg>
</div></body></html>
